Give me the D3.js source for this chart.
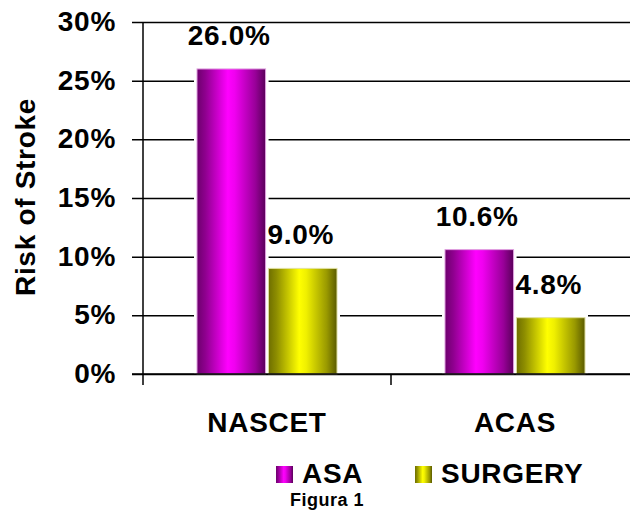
<!DOCTYPE html>
<html>
<head>
<meta charset="utf-8">
<script src="https://cdn.jsdelivr.net/npm/d3@7"></script>
<style>
  html, body { margin: 0; padding: 0; background: #fff; }
  svg { display: block; }
  text { font-family: "Liberation Sans", Arial, sans-serif; font-weight: bold; fill: #000; }
</style>
</head>
<body>
<svg id="chart" width="630" height="510"></svg>
<script>
const categories = ["NASCET", "ACAS"];
const series = ["ASA", "SURGERY"];
const asaValues = [26.0, 10.6];
const surgeryValues = [9.0, 4.8];
const yTicks = [0, 5, 10, 15, 20, 25, 30];
const yTickLabels = ["0%", "5%", "10%", "15%", "20%", "25%", "30%"];
const yTitle = "Risk of Stroke";
const caption = "Figura 1";

const valuesBySeries = { ASA: asaValues, SURGERY: surgeryValues };
const data = categories.map((c, i) => ({ cat: c, vals: series.map(s => ({ s, v: valuesBySeries[s][i] })) }));

const svg = d3.select("#chart");
const defs = svg.append("defs");

function grad(id, stops) {
  const g = defs.append("linearGradient").attr("id", id).attr("x1", "0").attr("x2", "1").attr("y1", "0").attr("y2", "0");
  stops.forEach(([o, c]) => g.append("stop").attr("offset", o).attr("stop-color", c));
}
grad("gASA", [["0", "#6e006e"], ["0.12", "#8e008e"], ["0.45", "#ff00ff"], ["0.55", "#f000f0"], ["0.85", "#990099"], ["1", "#5a005a"]]);
grad("gSUR", [["0", "#6e6e00"], ["0.12", "#8e8e00"], ["0.45", "#ffff00"], ["0.55", "#f0f000"], ["0.85", "#999900"], ["1", "#5a5a00"]]);
const fills = { ASA: "url(#gASA)", SURGERY: "url(#gSUR)" };
const strokes = { ASA: "#e0a0e0", SURGERY: "#e0e0a0" };

const FS = 28, LS = 0.7;

const y = d3.scaleLinear().domain([0, 30]).range([374, 22]);
const x0 = d3.scaleBand().domain(categories).range([143, 639]).paddingInner(0).paddingOuter(0);
const x1 = d3.scaleBand().domain(series).range([54, 194]).paddingInner(0.04);

// gridlines + tick marks
const yAxis = d3.axisLeft(y).tickValues(yTicks).tickSize(-(630 - 132)).tickFormat("");
const gy = svg.append("g").attr("transform", "translate(132,0)").call(yAxis);
gy.select(".domain").remove();
gy.selectAll(".tick line").attr("stroke", "#000").attr("stroke-width", 1.5);

// y tick labels
svg.append("g").selectAll("text").data(yTicks).join("text")
  .attr("x", 116).attr("y", d => y(d) + 9)
  .attr("text-anchor", "end").attr("font-size", FS).attr("letter-spacing", LS)
  .text((d, i) => yTickLabels[i]);

// bars
const groups = svg.append("g").selectAll("g").data(data).join("g")
  .attr("transform", d => `translate(${x0(d.cat)},0)`);
groups.selectAll("rect.bg").data(d => d.vals).join("rect").attr("class", "bg")
  .attr("x", d => x1(d.s) - 3).attr("y", d => y(d.v) - 3)
  .attr("width", x1.bandwidth() + 6).attr("height", d => y(0) - y(d.v) + 3)
  .attr("fill", "#fff");
groups.selectAll("rect.bar").data(d => d.vals).join("rect").attr("class", "bar")
  .attr("x", d => x1(d.s)).attr("y", d => y(d.v))
  .attr("width", x1.bandwidth()).attr("height", d => y(0) - y(d.v))
  .attr("fill", d => fills[d.s]).attr("stroke", d => strokes[d.s]).attr("stroke-width", 1);
groups.selectAll("text.lbl").data(d => d.vals).join("text").attr("class", "lbl")
  .attr("x", d => x1(d.s) + x1.bandwidth() / 2 - 2).attr("y", d => y(d.v) - 24)
  .attr("text-anchor", "middle").attr("font-size", FS).attr("letter-spacing", LS)
  .text(d => d.v.toFixed(1) + "%");

// axes
const xAxis = d3.axisBottom(x0).tickSize(11).tickFormat("");
const gx = svg.append("g").attr("transform", `translate(0,${y(0)})`).call(xAxis);
gx.select(".domain").attr("d", `M132,0H639`).attr("stroke", "#000").attr("stroke-width", 1.5);
gx.selectAll(".tick").remove();
svg.append("g").selectAll("line").data(categories.slice(1)).join("line")
  .attr("x1", d => x0(d)).attr("x2", d => x0(d))
  .attr("y1", y(0)).attr("y2", y(0) + 11)
  .attr("stroke", "#000").attr("stroke-width", 1.5);
svg.append("line").attr("x1", 143).attr("x2", 143).attr("y1", y(30)).attr("y2", y(0) + 11)
  .attr("stroke", "#000").attr("stroke-width", 1.5);

// category labels
svg.append("g").selectAll("text").data(categories).join("text")
  .attr("x", d => x0(d) + x0.bandwidth() / 2).attr("y", 432)
  .attr("text-anchor", "middle").attr("font-size", FS).attr("letter-spacing", LS)
  .text(d => d);

// y title
svg.append("text").attr("transform", "translate(35,197) rotate(-90)")
  .attr("text-anchor", "middle").attr("font-size", FS).attr("letter-spacing", LS).text(yTitle);

// legend
const legendPos = { ASA: 276, SURGERY: 415 };
const lg = svg.append("g").selectAll("g").data(series).join("g")
  .attr("transform", d => `translate(${legendPos[d]},466)`);
lg.append("rect").attr("width", 17).attr("height", 17).attr("fill", d => fills[d]);
lg.append("text").attr("x", 26).attr("y", 17).attr("font-size", FS).attr("letter-spacing", LS).text(d => d);

// caption
svg.append("text").attr("x", 327).attr("y", 506).attr("text-anchor", "middle")
  .attr("font-size", 18).attr("letter-spacing", 0.5).text(caption);
</script>
</body>
</html>
